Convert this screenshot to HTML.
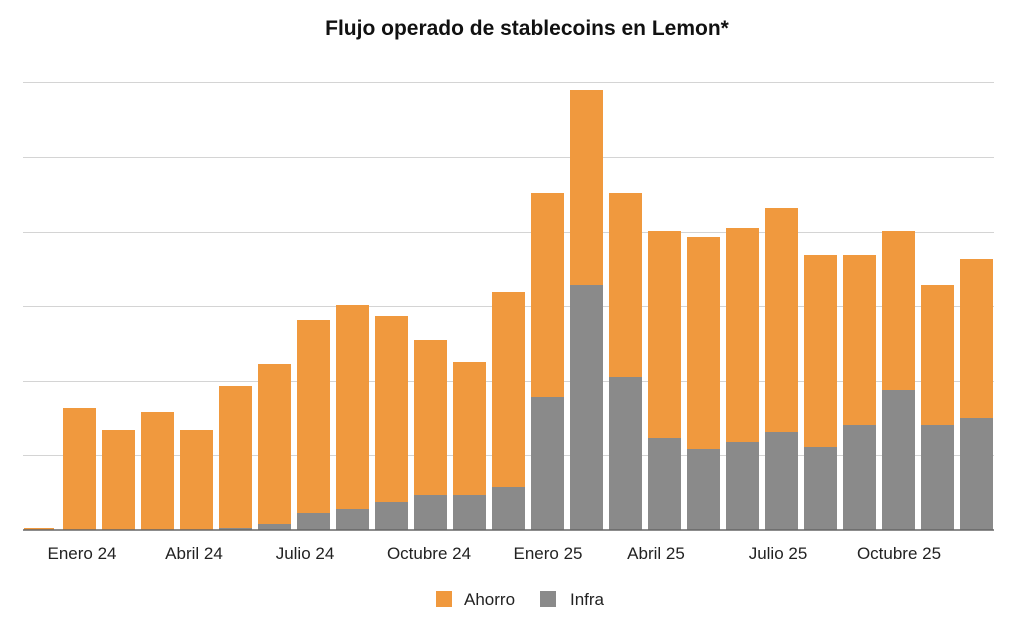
<!DOCTYPE html><html><head><style>body{margin:0;background:#fff;width:1024px;height:631px;overflow:hidden}svg text{font-family:"Liberation Sans",sans-serif}</style></head><body>
<svg width="1024" height="631" xmlns="http://www.w3.org/2000/svg">
<text x="527" y="35" text-anchor="middle" font-size="21" font-weight="bold" fill="#111">Flujo operado de stablecoins en Lemon*</text>
<g stroke="#d4d4d4" stroke-width="1">
<line x1="23" x2="994" y1="82.5" y2="82.5"/><line x1="23" x2="994" y1="157.5" y2="157.5"/><line x1="23" x2="994" y1="232.5" y2="232.5"/><line x1="23" x2="994" y1="306.5" y2="306.5"/><line x1="23" x2="994" y1="381.5" y2="381.5"/><line x1="23" x2="994" y1="455.5" y2="455.5"/></g>
<g fill="#F0993E">
<rect x="24" y="528" width="30" height="2"/>
<rect x="63" y="408" width="33" height="122"/>
<rect x="102" y="430" width="33" height="100"/>
<rect x="141" y="412" width="33" height="118"/>
<rect x="180" y="430" width="33" height="100"/>
<rect x="219" y="386" width="33" height="142"/>
<rect x="258" y="364" width="33" height="160"/>
<rect x="297" y="320" width="33" height="193"/>
<rect x="336" y="305" width="33" height="204"/>
<rect x="375" y="316" width="33" height="186"/>
<rect x="414" y="340" width="33" height="155"/>
<rect x="453" y="362" width="33" height="133"/>
<rect x="492" y="292" width="33" height="195"/>
<rect x="531" y="193" width="33" height="204"/>
<rect x="570" y="90" width="33" height="195"/>
<rect x="609" y="193" width="33" height="184"/>
<rect x="648" y="231" width="33" height="207"/>
<rect x="687" y="237" width="33" height="212"/>
<rect x="726" y="228" width="33" height="214"/>
<rect x="765" y="208" width="33" height="224"/>
<rect x="804" y="255" width="33" height="192"/>
<rect x="843" y="255" width="33" height="170"/>
<rect x="882" y="231" width="33" height="159"/>
<rect x="921" y="285" width="33" height="140"/>
<rect x="960" y="259" width="33" height="159"/>
</g>
<g fill="#8a8a8a">
<rect x="219" y="528" width="33" height="2"/>
<rect x="258" y="524" width="33" height="6"/>
<rect x="297" y="513" width="33" height="17"/>
<rect x="336" y="509" width="33" height="21"/>
<rect x="375" y="502" width="33" height="28"/>
<rect x="414" y="495" width="33" height="35"/>
<rect x="453" y="495" width="33" height="35"/>
<rect x="492" y="487" width="33" height="43"/>
<rect x="531" y="397" width="33" height="133"/>
<rect x="570" y="285" width="33" height="245"/>
<rect x="609" y="377" width="33" height="153"/>
<rect x="648" y="438" width="33" height="92"/>
<rect x="687" y="449" width="33" height="81"/>
<rect x="726" y="442" width="33" height="88"/>
<rect x="765" y="432" width="33" height="98"/>
<rect x="804" y="447" width="33" height="83"/>
<rect x="843" y="425" width="33" height="105"/>
<rect x="882" y="390" width="33" height="140"/>
<rect x="921" y="425" width="33" height="105"/>
<rect x="960" y="418" width="33" height="112"/>
</g>
<line x1="23" x2="994" y1="530" y2="530" stroke="#666" stroke-width="1.5"/>
<g font-size="17" fill="#222" text-anchor="middle">
<text x="82" y="559">Enero 24</text><text x="194" y="559">Abril 24</text><text x="305" y="559">Julio 24</text><text x="429" y="559">Octubre 24</text><text x="548" y="559">Enero 25</text><text x="656" y="559">Abril 25</text><text x="778" y="559">Julio 25</text><text x="899" y="559">Octubre 25</text></g>
<rect x="436" y="591" width="16" height="16" fill="#F0993E"/><text x="464" y="605" font-size="17" fill="#222">Ahorro</text>
<rect x="540" y="591" width="16" height="16" fill="#8a8a8a"/><text x="570" y="605" font-size="17" fill="#222">Infra</text>
</svg></body></html>
